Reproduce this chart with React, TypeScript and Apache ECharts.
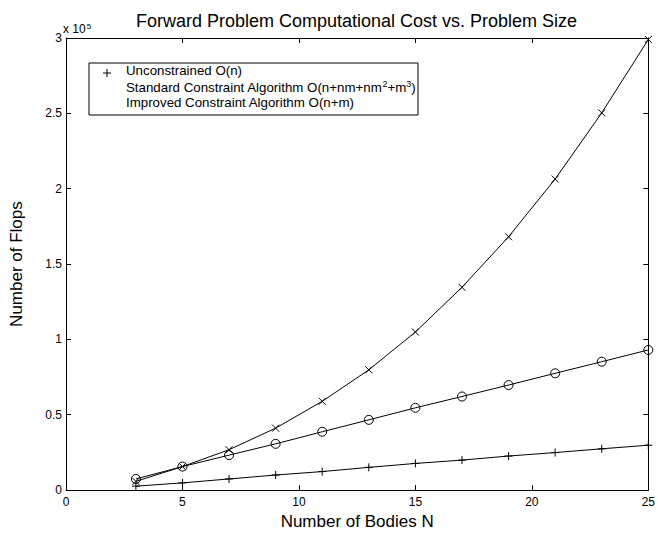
import React, { useEffect, useRef } from "react";
import * as echarts from "echarts";

// Number of bodies N (x positions of markers)
const bodies = [3, 5, 7, 9, 11, 13, 15, 17, 19, 21, 23, 25];
// Flops
const unconstrained = [2600, 4800, 7400, 10000, 12300, 15100, 17700, 19900, 22600, 24900, 27400, 29800];
const standard = [5800, 15600, 26800, 41100, 58900, 79800, 104900, 134600, 168100, 206400, 250300, 299000];
const improved = [7400, 15600, 23200, 30700, 38700, 46600, 54600, 62100, 69700, 77500, 85200, 93000];

const seriesNames = [
  "Unconstrained O(n)",
  "Standard Constraint Algorithm O(n+nm+nm^2+m^3)",
  "Improved Constraint Algorithm O(n+m)",
];
const legendTexts = [
  "Unconstrained O(n)",
  "Standard Constraint Algorithm O(n+nm+nm{sup|2}+m{sup|3})",
  "Improved Constraint Algorithm O(n+m)",
];

const titleText = "Forward Problem Computational Cost vs. Problem Size";
const xName = "Number of Bodies N";
const yName = "Number of Flops";

const FONT = '"Liberation Sans", Arial, Helvetica, sans-serif';

const PLUS = "path://M0,5L10,5M5,0L5,10";
const CROSS = "path://M0,0L10,10M10,0L0,10";
const CIRCLE = "path://M10,5A5,5,0,1,1,0,5A5,5,0,1,1,10,5Z";

export default function App() {
  const ref = useRef<HTMLDivElement>(null);

  useEffect(() => {
    const chart = echarts.init(ref.current!, null, { renderer: "svg" });
    const pair = (ys: number[]) => bodies.map((x, i) => [x, ys[i]]);

    const axisLine = { show: true, onZero: false, lineStyle: { color: "#000", width: 1 } };
    const axisTick = { show: true, inside: true, length: 5, lineStyle: { color: "#000", width: 1 } };
    const labelStyle = { color: "#000", fontSize: 12, fontFamily: FONT };

    const mkSeries = (name: string, ys: number[], symbol: string, size: number) => ({
      type: "line",
      name,
      data: pair(ys),
      symbol,
      symbolSize: size,
      showAllSymbol: true,
      lineStyle: { color: "#000", width: 1 },
      itemStyle: { color: "none", borderColor: "#000", borderWidth: 1 },
      emphasis: { disabled: true },
      clip: false,
    });

    chart.setOption({
      animation: false,
      backgroundColor: "#fff",
      textStyle: { fontFamily: FONT },
      grid: { left: 63, right: 8, top: 38, bottom: 34 },
      xAxis: [
        {
          type: "value",
          min: 0,
          max: 25,
          interval: 5,
          position: "bottom",
          name: xName,
          nameLocation: "middle",
          nameGap: 19,
          nameTextStyle: { color: "#000", fontSize: 17, fontFamily: FONT },
          axisLine,
          axisTick,
          axisLabel: { ...labelStyle, margin: 6 },
          splitLine: { show: false },
        },
        {
          type: "value",
          min: 0,
          max: 25,
          interval: 5,
          position: "top",
          axisLine,
          axisTick,
          axisLabel: { show: false },
          splitLine: { show: false },
        },
      ],
      yAxis: [
        {
          type: "value",
          min: 0,
          max: 300000,
          interval: 50000,
          position: "left",
          name: yName,
          nameLocation: "middle",
          nameGap: 41,
          nameTextStyle: { color: "#000", fontSize: 17, fontFamily: FONT },
          axisLine,
          axisTick,
          axisLabel: { ...labelStyle, margin: 4, formatter: (v: number) => String(v / 100000) },
          splitLine: { show: false },
        },
        {
          type: "value",
          min: 0,
          max: 300000,
          interval: 50000,
          position: "right",
          axisLine,
          axisTick,
          axisLabel: { show: false },
          splitLine: { show: false },
        },
      ],
      series: [
        mkSeries(seriesNames[0], unconstrained, PLUS, 8),
        mkSeries(seriesNames[1], standard, CROSS, 7),
        mkSeries(seriesNames[2], improved, CIRCLE, 9),
      ],
      graphic: [
        {
          type: "text",
          x: 356.5,
          y: 21,
          style: {
            text: titleText,
            fill: "#000",
            fontSize: 18,
            fontFamily: FONT,
            align: "center",
            verticalAlign: "middle",
          },
        },
        {
          type: "text",
          x: 63,
          y: 29,
          style: {
            text: "x 10{sup|5}",
            fill: "#000",
            fontSize: 12,
            fontFamily: FONT,
            align: "left",
            verticalAlign: "middle",
            rich: {
              sup: { fontSize: 8, verticalAlign: "top", padding: [0, 0, 6, 1], fill: "#000" },
            },
          },
        },
        {
          type: "rect",
          shape: { x: 89, y: 63, width: 329, height: 52 },
          style: { fill: "#fff", stroke: "#000", lineWidth: 1 },
          z: 10,
        },
        {
          type: "line",
          shape: { x1: 103, y1: 73, x2: 111, y2: 73 },
          style: { stroke: "#000", lineWidth: 1 },
          z: 11,
        },
        {
          type: "line",
          shape: { x1: 107, y1: 69, x2: 107, y2: 77 },
          style: { stroke: "#000", lineWidth: 1 },
          z: 11,
        },
        ...legendTexts.map((t, i) => ({
          type: "text",
          x: 126,
          y: [70, 87, 102][i],
          z: 11,
          style: {
            text: t,
            fill: "#000",
            fontSize: 13.3,
            fontFamily: FONT,
            align: "left",
            verticalAlign: "middle",
            rich: {
              sup: { fontSize: 9, verticalAlign: "top", padding: [0, 0, 6, 0], fill: "#000" },
            },
          },
        })),
      ],
    });

    return () => chart.dispose();
  }, []);

  return (
    <div
      ref={ref}
      style={{ position: "fixed", left: 0, top: 0, width: 658, height: 535, background: "#fff" }}
    />
  );
}
